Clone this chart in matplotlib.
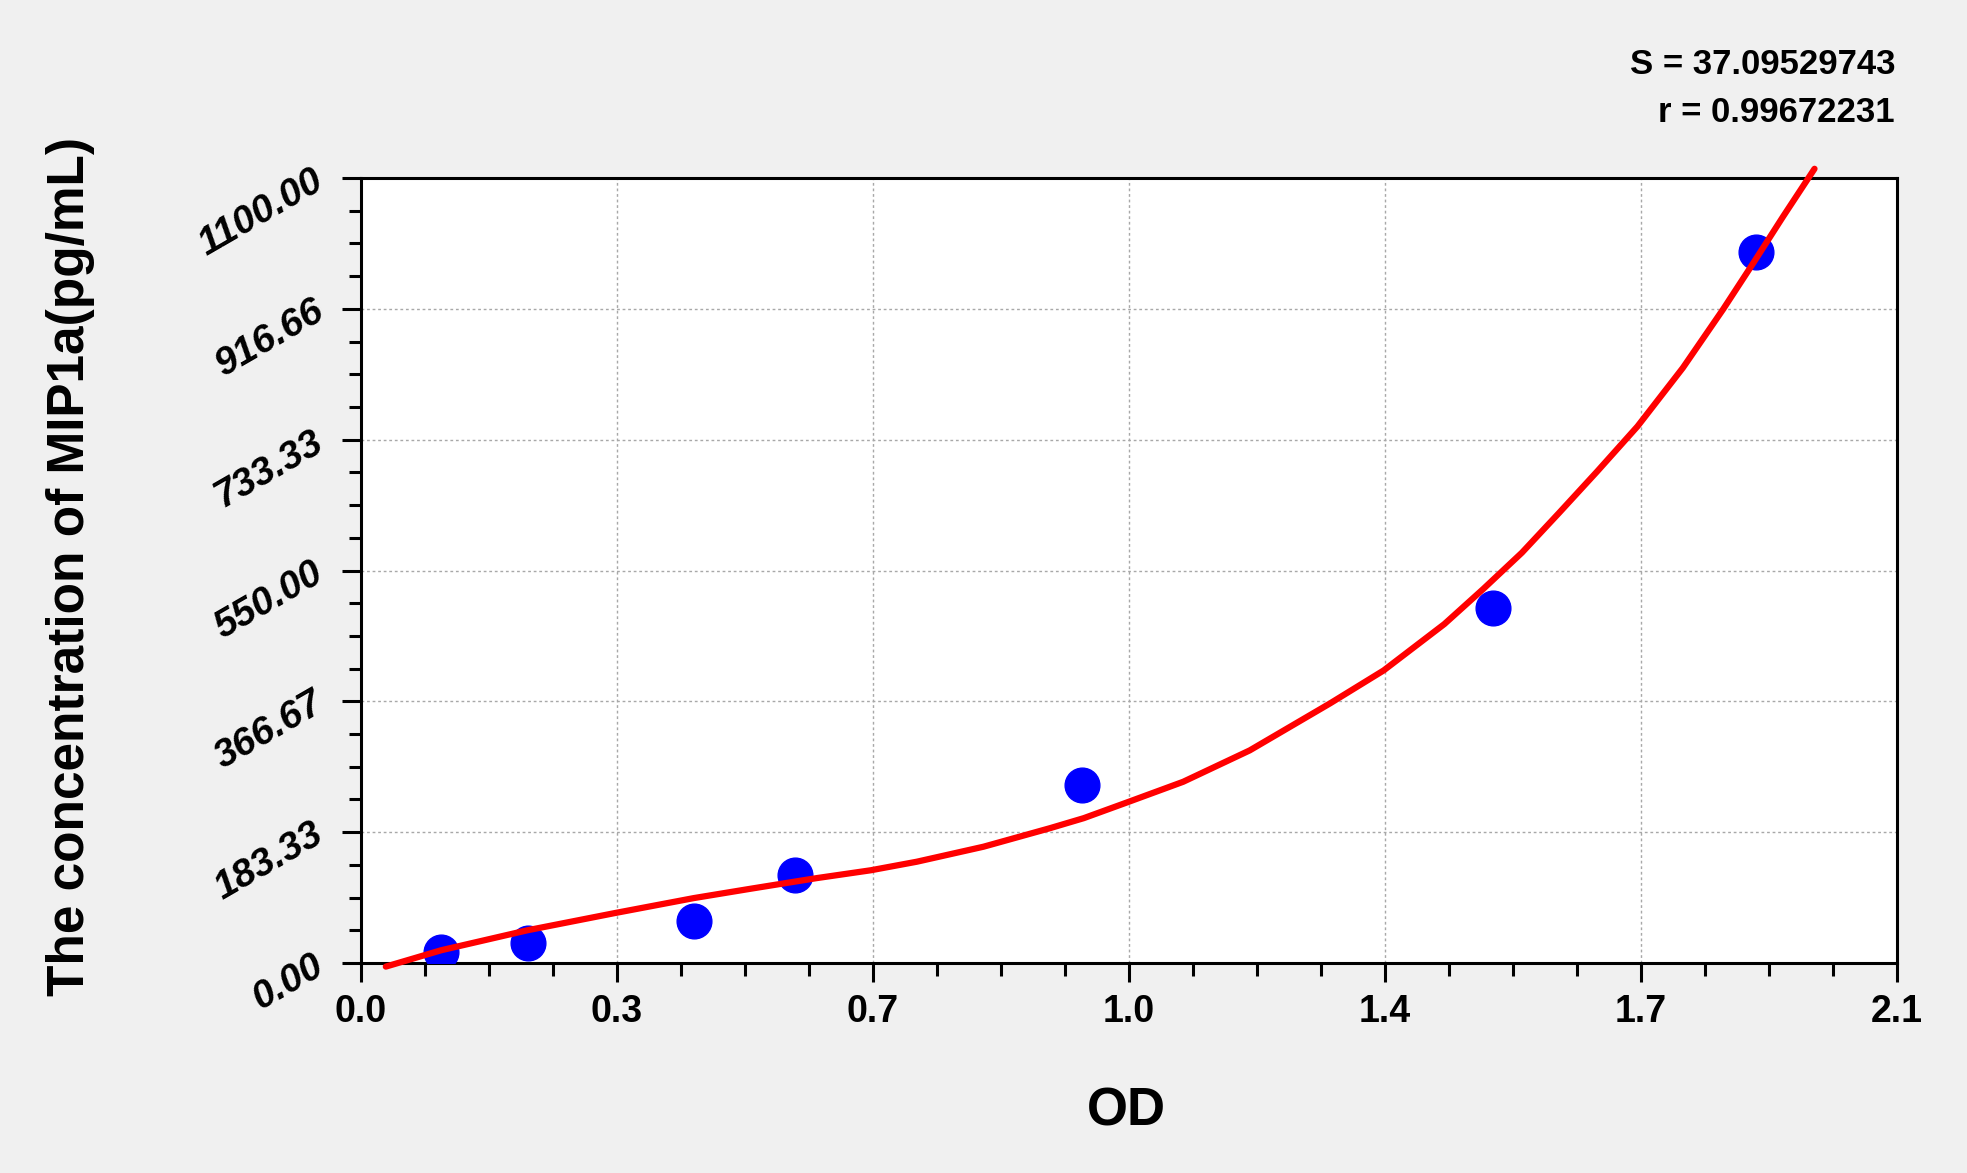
import matplotlib
matplotlib.use('Agg')
import matplotlib.pyplot as plt
from matplotlib.ticker import MultipleLocator

# standard points (OD, concentration)
od = [0.110, 0.228, 0.455, 0.593, 0.985, 1.547, 1.907]
conc = [15, 28, 59, 123, 249, 497, 997]

# fitted curve
fit_od = [0.034, 0.110, 0.228, 0.347, 0.455, 0.532, 0.623, 0.697, 0.760, 0.851,
          0.942, 0.988, 1.047, 1.124, 1.215, 1.325, 1.398, 1.481, 1.534, 1.587,
          1.638, 1.690, 1.745, 1.807, 1.862, 1.904, 1.944, 1.987]
fit_conc = [-5, 18, 46, 70, 91, 104, 119, 130, 142, 163,
            189, 203, 225, 254, 298, 364, 410, 475, 524, 575,
            631, 689, 752, 834, 916, 982, 1046, 1113]

x_ticks = [0.0, 0.35, 0.70, 1.05, 1.40, 1.75, 2.10]
x_labels = ['0.0', '0.3', '0.7', '1.0', '1.4', '1.7', '2.1']
y_ticks = [0, 183.33, 366.67, 550, 733.33, 916.66, 1100]
y_labels = ['0.00', '183.33', '366.67', '550.00', '733.33', '916.66', '1100.00']

narrow = ['Liberation Sans Narrow', 'Liberation Sans', 'DejaVu Sans']
arial = ['Liberation Sans', 'DejaVu Sans']

fig = plt.figure(figsize=(19.67, 11.73), dpi=100, facecolor='#f0f0f0')
ax = fig.add_axes([0.1835, 0.179, 0.781, 0.6692])
ax.set_facecolor('white')

ax.plot(od, conc, 'o', color='#0000ff', ms=25, zorder=3)
ax.plot(fit_od, fit_conc, color='#ff0000', lw=4.5, zorder=4, clip_on=False,
        solid_joinstyle='round', solid_capstyle='round')

ax.set_xlim(0, 2.1)
ax.set_ylim(0, 1100)
ax.set_xticks(x_ticks)
ax.set_xticklabels(x_labels, family=narrow, fontweight='bold', fontsize=27)
ax.xaxis.set_minor_locator(MultipleLocator(0.0875))
ax.set_yticks(y_ticks)
ax.set_yticklabels(y_labels, family=arial, fontweight='bold', style='italic', fontsize=28)
ax.yaxis.set_minor_locator(MultipleLocator(1100 / 24))
plt.setp(ax.get_yticklabels(), rotation=30, ha='right', va='center', rotation_mode='anchor')

ax.grid(True, which='major', color='#a8a8a8', linestyle=(0, (2, 2)), lw=1)
ax.tick_params(which='major', length=14, width=2.2, direction='out')
ax.tick_params(axis='x', which='major', pad=8)
ax.tick_params(axis='y', which='major', pad=15)
ax.tick_params(which='minor', length=9, width=2.2, direction='out')
for s in ax.spines.values():
    s.set_linewidth(2.2)

fig.text(1126 / 1967, 1 - 1112 / 1173, 'OD', ha='center', va='center',
         family=narrow, fontweight='bold', fontsize=38)
fig.text(71 / 1967, 1 - 567 / 1173, 'The concentration of MIP1a(pg/mL)', rotation=90,
         ha='center', va='center', family=arial, fontweight='bold', fontsize=37)

fig.text(1895 / 1967, 1 - 65 / 1173, 'S = 37.09529743', ha='right', va='center',
         family=arial, fontweight='bold', fontsize=25)
fig.text(1895 / 1967, 1 - 113 / 1173, 'r = 0.99672231', ha='right', va='center',
         family=arial, fontweight='bold', fontsize=25)

fig.savefig('out.png', dpi=100, facecolor=fig.get_facecolor())
